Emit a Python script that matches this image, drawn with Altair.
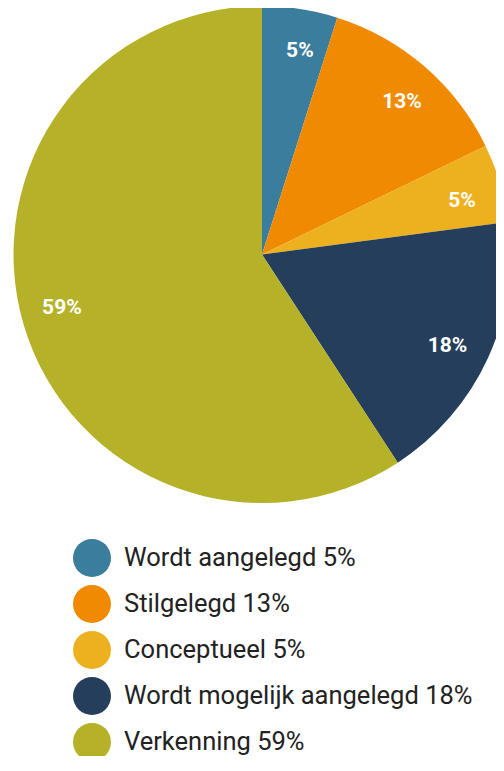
import altair as alt
import pandas as pd

categories = ["Wordt aangelegd", "Stilgelegd", "Conceptueel", "Wordt mogelijk aangelegd", "Verkenning"]
values = [4.9, 12.9, 5.1, 17.9, 59.2]
labels = ["5%", "13%", "5%", "18%", "59%"]
colors = ["#3A7D9C", "#F08A00", "#EDB11F", "#243E5C", "#B5B22A"]

legend_names = [f"{c} {l}" for c, l in zip(categories, labels)]
df = pd.DataFrame({
    "idx": list(range(len(categories))),
    "cat": legend_names,
    "value": values,
    "label": labels,
})

base = alt.Chart(df).encode(
    theta=alt.Theta("value:Q", stack=True),
    order=alt.Order("idx:Q"),
)

arcs = base.mark_arc(radius=248.5, stroke=None).encode(
    x=alt.value(254),
    y=alt.value(246.5),
    color=alt.Color(
        "cat:N",
        sort=legend_names,
        scale=alt.Scale(domain=legend_names, range=colors),
        legend=alt.Legend(
            title=None,
            orient="none",
            legendX=65,
            legendY=531,
            symbolType="circle",
            symbolSize=1444,
            symbolStrokeWidth=0,
            symbolOffset=0,
            labelOffset=13,
            labelFont="Roboto",
            labelFontSize=25.5,
            labelColor="#222222",
            rowPadding=8,
            padding=0,
            labelLimit=400,
        ),
    ),
)

text = base.mark_text(
    radius=207, thetaOffset=0.03, font="Roboto", fontSize=21,
    fontWeight="bold", color="white"
).encode(
    x=alt.value(254),
    y=alt.value(246.5),
    text="label:N",
)

chart = (arcs + text).properties(
    width=488, height=748, padding=0,
    autosize=alt.AutoSizeParams(type="none"),
).configure_view(stroke=None)

chart.save("out.html", embed_options={"renderer": "svg", "actions": False})
